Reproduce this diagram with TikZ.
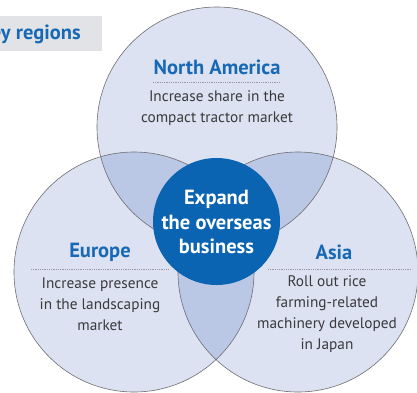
\documentclass[tikz,border=0pt]{standalone}
\usepackage{fontspec}
\setmainfont{PT Sans}
\begin{document}
\definecolor{ringfill}{HTML}{DCE2F1}
\definecolor{lensfill}{HTML}{BBC8E5}
\definecolor{ringline}{HTML}{6E6E72}
\definecolor{corefill}{HTML}{0B64B2}
\definecolor{headblue}{HTML}{1769B6}
\definecolor{bodygray}{HTML}{3A3A3C}
\definecolor{tabgray}{HTML}{E1E3E6}
\definecolor{dotgray}{HTML}{9A9A9E}
\begin{tikzpicture}[x=1pt,y=-1pt,
  ring/.style={draw=ringline,line width=0.6pt},
  head/.style={font=\fontsize{20.5}{24}\selectfont\bfseries,text=headblue,inner sep=0pt},
  body/.style={font=\fontsize{15.3}{21}\selectfont,text=bodygray,align=center,inner sep=0pt},
  rule/.style={draw=dotgray,line width=0.7pt,dash pattern=on 0.7pt off 1.1pt}]
\useasboundingbox (0,0) rectangle (417,392);
\clip (0,0) rectangle (417,392);
% circle centres and radius
\coordinate (cN) at (217,127);
\coordinate (cE) at (134,272);
\coordinate (cA) at (298,272);
\def\rad{120}
% base discs
\fill[ringfill] (cN) circle (\rad) (cE) circle (\rad) (cA) circle (\rad);
% pairwise overlaps
\begin{scope}\clip (cN) circle (\rad); \fill[lensfill] (cE) circle (\rad) (cA) circle (\rad);\end{scope}
\begin{scope}\clip (cE) circle (\rad); \fill[lensfill] (cA) circle (\rad);\end{scope}
% outlines
\draw[ring] (cN) circle (\rad) (cE) circle (\rad) (cA) circle (\rad);
% centre disc
\fill[corefill] (216.5,221.5) circle (63.5);
\node[font=\fontsize{20.5}{24.5}\selectfont\bfseries,text=white,align=center,inner sep=0pt]
  (core) at (216.5,222) {Expand\\the overseas\\business};
% heading tab
\fill[tabgray] (0,16) rectangle (102,51);
\node[font=\fontsize{20.5}{24}\selectfont\bfseries,text=headblue,anchor=east,inner sep=0pt] (tab) at (81,34.5) {Key regions};
% North America
\node[head] (nah) at (217,67.5) {North America};
\draw[rule] (153,82) -- (280,82);
\node[body] (nab) at (217,108) {Increase share in the\\compact tractor market};
% Europe
\node[head] (euh) at (100,252) {Europe};
\draw[rule] (31,269) -- (168,269);
\node[body] (eub) at (100,304) {Increase presence\\in the landscaping\\market};
% Asia
\node[head] (ash) at (334,252) {Asia};
\draw[rule] (268,269) -- (412,269);
\node[body] (asb) at (327,314.5) {Roll out rice\\farming-related\\machinery developed\\in Japan};
\end{tikzpicture}
\end{document}
